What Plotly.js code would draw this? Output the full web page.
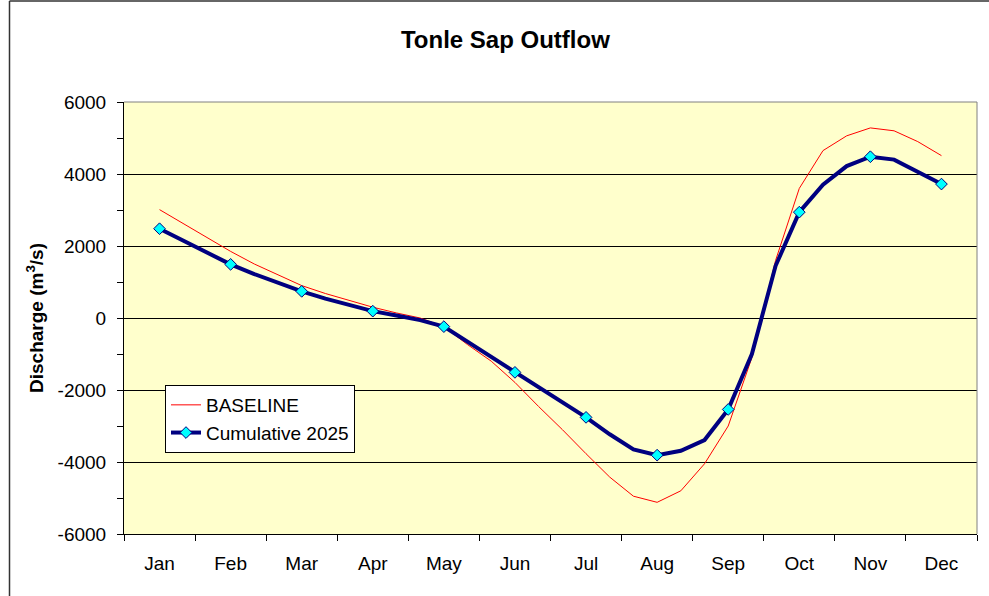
<!DOCTYPE html>
<html>
<head>
<meta charset="utf-8">
<script src="https://cdn.plot.ly/plotly-3.0.1.min.js"></script>
<style>
  html, body { margin: 0; padding: 0; background: #ffffff; }
  #chart { width: 989px; height: 596px; }
</style>
</head>
<body>
<div id="chart"></div>
<script>
// Month categories (tick labels)
const months = ['Jan', 'Feb', 'Mar', 'Apr', 'May', 'Jun', 'Jul', 'Aug', 'Sep', 'Oct', 'Nov', 'Dec'];

// Y tick values and labels
const yTickVals = [-6000, -4000, -2000, 0, 2000, 4000, 6000];
const yTickText = ['-6000', '-4000', '-2000', '0', '2000', '4000', '6000'];

// Samples per month (dekads); the first sample of each month is at the month's centre
const samplesPerMonth = 3;

// BASELINE discharge (m3/s), one value per dekad from mid-Jan to mid-Dec
const baseline = [
  3010, 2620, 2230,
  1850, 1500, 1190,
  900, 680, 480,
  300, 140, 0,
  -240, -740, -1200,
  -1790, -2460, -3100,
  -3770, -4420, -4950,
  -5120, -4800, -4050,
  -3000, -1100, 1600,
  3600, 4650, 5060,
  5280, 5200, 4900,
  4510
];

// Cumulative 2025 discharge (m3/s), same sampling
const cumulative2025 = [
  2480, 2150, 1820,
  1490, 1220, 970,
  740, 540, 360,
  190, 70, -60,
  -240, -660, -1090,
  -1510, -1930, -2340,
  -2760, -3230, -3650,
  -3810, -3690, -3390,
  -2540, -1000, 1450,
  2940, 3700, 4220,
  4480, 4400, 4060,
  3720
];

// Position of each sample on the month axis
const sampleX = baseline.map((_, i) => i / samplesPerMonth);
const monthIdx = months.map((_, i) => i);
// Marker points (monthly) taken from the cumulative series
const markerX = sampleX.filter((_, i) => i % samplesPerMonth === 0);
const markerY = cumulative2025.filter((_, i) => i % samplesPerMonth === 0);

const navy = '#000080';
const markerStyle = { symbol: 'diamond', size: 9, color: '#00FFFF', line: { color: navy, width: 1 } };

const traces = [
  {
    x: sampleX, y: baseline, name: 'BASELINE', type: 'scatter', mode: 'lines',
    line: { color: '#FF0000', width: 1 }, hoverinfo: 'skip'
  },
  {
    x: sampleX, y: cumulative2025, name: 'Cumulative 2025', type: 'scatter', mode: 'lines',
    line: { color: navy, width: 4 }, showlegend: false, hoverinfo: 'skip'
  },
  {
    x: markerX, y: markerY, name: 'Cumulative 2025', type: 'scatter', mode: 'markers',
    marker: markerStyle, showlegend: false, hoverinfo: 'skip'
  },
  {
    x: [null], y: [null], name: 'Cumulative 2025', type: 'scatter', mode: 'lines+markers',
    line: { color: navy, width: 4 }, marker: markerStyle, showlegend: true
  }
];

// plot area geometry helpers (pixels -> paper)
const L = 124, R = 12, T = 102, B = 62, W = 989, H = 596;
const pw = W - L - R, ph = H - T - B;
const px = v => (v - L) / pw;
const py = v => (H - B - v) / ph;

const layout = {
  width: W, height: H,
  margin: { l: L, r: R, t: T, b: B, pad: 0 },
  paper_bgcolor: '#ffffff',
  plot_bgcolor: '#FFFFCC',
  font: { family: 'Liberation Sans, Arial, sans-serif', color: '#000000', size: 19 },
  showlegend: true,
  title: {
    text: '<b>Tonle Sap Outflow</b>',
    font: { size: 24, family: 'Liberation Sans, Arial, sans-serif', color: '#000000' },
    x: 0.511, xanchor: 'center', xref: 'container',
    y: 1 - 40 / H, yanchor: 'middle', yref: 'container'
  },
  xaxis: {
    range: [-0.5, 11.5],
    tickmode: 'array', tickvals: monthIdx, ticktext: months,
    ticks: '', showgrid: false, zeroline: false,
    showline: true, linecolor: '#000000', linewidth: 1,
    tickfont: { size: 19 },
    ticklabelstandoff: 12,
    minor: { tickmode: 'linear', tick0: -0.5, dtick: 1, ticks: 'outside', ticklen: 6, tickcolor: '#000000', tickwidth: 1, showgrid: false },
    fixedrange: true
  },
  yaxis: {
    range: [-6000, 6000], tickmode: 'array', tickvals: yTickVals, ticktext: yTickText,
    ticks: 'outside', ticklen: 6, tickcolor: '#000000', tickwidth: 1,
    showgrid: true, gridcolor: '#000000', gridwidth: 1,
    zeroline: false, showline: true, linecolor: '#000000', linewidth: 1,
    tickfont: { size: 19 },
    ticklabelstandoff: 7,
    minor: { tickmode: 'linear', tick0: 0, dtick: 1000, ticks: 'outside', ticklen: 6, tickcolor: '#000000', tickwidth: 1, showgrid: false },
    title: { text: '<b>Discharge (m<sup>3</sup>/s)</b>', font: { size: 19 }, standoff: 8 },
    fixedrange: true
  },
  legend: {
    x: px(165), y: py(385), xanchor: 'left', yanchor: 'top',
    bgcolor: '#ffffff', bordercolor: '#000000', borderwidth: 1,
    font: { size: 19, color: '#000000' },
    tracegroupgap: 0
  },
  shapes: [
    // plot area frame: top and right (gray)
    { type: 'line', xref: 'paper', yref: 'paper', x0: 0, x1: 1, y0: 1, y1: 1, line: { color: '#808080', width: 1 }, layer: 'above' },
    { type: 'line', xref: 'paper', yref: 'paper', x0: 1, x1: 1, y0: 0, y1: 1, line: { color: '#808080', width: 1 }, layer: 'above' },
    // chart area frame: left and top
    { type: 'line', xref: 'paper', yref: 'paper', x0: px(9.5), x1: px(9.5), y0: py(600), y1: py(1), line: { color: '#333333', width: 1.5 }, layer: 'above' },
    { type: 'line', xref: 'paper', yref: 'paper', x0: px(9.5), x1: px(1000), y0: py(1), y1: py(1), line: { color: '#333333', width: 1.5 }, layer: 'above' }
  ]
};

Plotly.newPlot('chart', traces, layout, { displayModeBar: false, staticPlot: true });
</script>
</body>
</html>
